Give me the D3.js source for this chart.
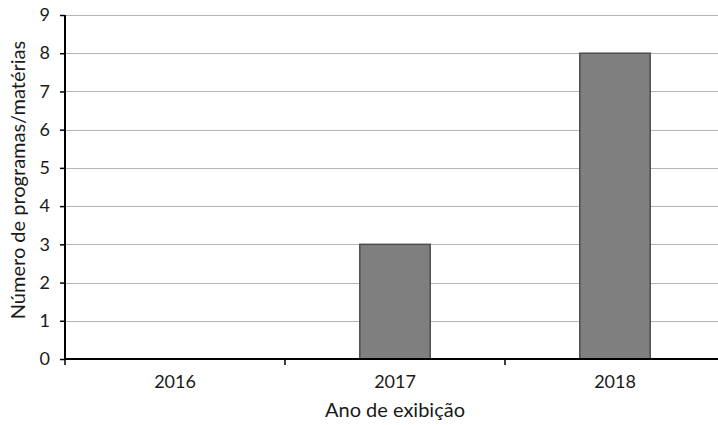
<!DOCTYPE html>
<html><head><meta charset="utf-8">
<script src="https://cdn.jsdelivr.net/npm/d3@7"></script>
<style>body{margin:0;background:#fff}svg{display:block}text{font-family:Lato,"Open Sans",sans-serif;fill:#1a1a1a}</style>
</head><body>
<script>
const categories = ["2016", "2017", "2018"];
const values = [0, 3, 8];
const yTicks = [0,1,2,3,4,5,6,7,8,9];
const xTitle = "Ano de exibição";
const yTitle = "Número de programas/matérias";

const W = 718, H = 425;
const svg = d3.select("body").append("svg").attr("width", W).attr("height", H);
const x = d3.scaleBand().domain(categories).range([65, 725]).paddingInner(0.68).paddingOuter(0.34);
const y = d3.scaleLinear().domain([0, 9]).range([359, 15]);

// gridlines
svg.append("g").selectAll("line").data(yTicks.filter(d => d > 0)).join("line")
  .attr("x1", 66).attr("x2", W).attr("y1", d => Math.round(y(d)) + 0.5).attr("y2", d => Math.round(y(d)) + 0.5)
  .attr("stroke", "#b4b4b4").attr("stroke-width", 1.2);

// bars
svg.append("g").selectAll("rect").data(categories.map((c, i) => ({c, v: values[i]})).filter(d => d.v > 0)).join("rect")
  .attr("x", d => x(d.c)).attr("width", x.bandwidth())
  .attr("y", d => y(d.v)).attr("height", d => y(0) - y(d.v))
  .attr("fill", "#7f7f7f").attr("stroke", "#4d4d4d").attr("stroke-width", 1.5);

// y axis
const yAxis = svg.append("g").attr("transform", "translate(65,0)")
  .call(d3.axisLeft(y).tickValues(yTicks).tickSize(5).tickPadding(10));
yAxis.select(".domain").attr("stroke", "#000").attr("stroke-width", 2).attr("d", `M0,${y(9)}V${y(0)}`);
yAxis.selectAll(".tick line").attr("stroke", "#000").attr("stroke-width", 1.5);
yAxis.selectAll("text").style("font-size", "18px").attr("fill", "#1a1a1a");

// x axis
const xAxis = svg.append("g").attr("transform", "translate(0,359)")
  .call(d3.axisBottom(x).tickSize(0).tickPadding(16));
xAxis.select(".domain").attr("stroke", "#000").attr("stroke-width", 2).attr("d", `M64,0H${W}`);
xAxis.selectAll("text").style("font-size", "18px").attr("fill", "#1a1a1a");
// boundary ticks
const bounds = categories.map(c => x(c) - x.step() * x.paddingOuter());
svg.append("g").selectAll("line").data(bounds).join("line")
  .attr("x1", d => d).attr("x2", d => d).attr("y1", 359).attr("y2", 365)
  .attr("stroke", "#000").attr("stroke-width", 1.5);

// titles
svg.append("text").attr("x", 395).attr("y", 417).attr("text-anchor", "middle")
  .style("font-size", "20px").text(xTitle);
svg.append("text").attr("transform", "translate(25,180) rotate(-90)").attr("text-anchor", "middle")
  .style("font-size", "20px").text(yTitle);
</script>
</body></html>
